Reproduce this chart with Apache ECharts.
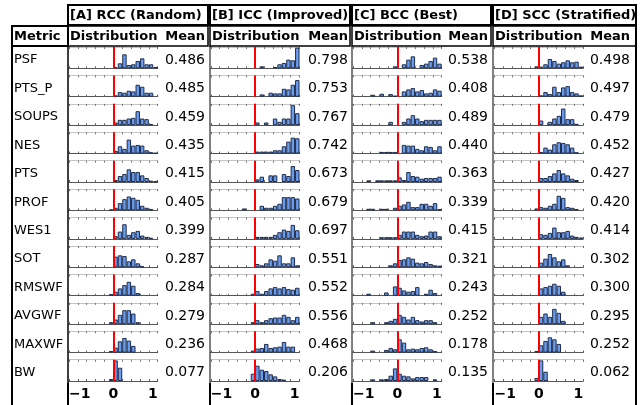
<!DOCTYPE html>
<html>
<head>
<meta charset="utf-8">
<script src="https://cdn.jsdelivr.net/npm/echarts@6/dist/echarts.min.js"></script>
<style>
  html, body { margin: 0; padding: 0; background: #fff; }
  #chart { width: 643px; height: 405px; }
</style>
</head>
<body>
<div id="chart"></div>
<script>
const metrics = ['PSF', 'PTS_P', 'SOUPS', 'NES', 'PTS', 'PROF', 'WES1', 'SOT', 'RMSWF', 'AVGWF', 'MAXWF', 'BW'];
const groupTitles = ['[A] RCC (Random)', '[B] ICC (Improved)', '[C] BCC (Best)', '[D] SCC (Stratified)'];

const meanRCC = [0.486, 0.485, 0.459, 0.435, 0.415, 0.405, 0.399, 0.287, 0.284, 0.279, 0.236, 0.077];
const meanICC = [0.798, 0.753, 0.767, 0.742, 0.673, 0.679, 0.697, 0.551, 0.552, 0.556, 0.468, 0.206];
const meanBCC = [0.538, 0.408, 0.489, 0.440, 0.363, 0.339, 0.415, 0.321, 0.243, 0.252, 0.178, 0.135];
const meanSCC = [0.498, 0.497, 0.479, 0.452, 0.427, 0.420, 0.414, 0.302, 0.300, 0.295, 0.252, 0.062];

// histogram bins: 20 bins of width 0.1 from -1 to 1
const binStart = -1;
const binWidth = 0.1;
const xTicks = [-1, 0, 1];
const xTickLabels = ['\u22121', '0', '1'];

const histRCC = [
  [0,0,0,0,0,0,0,0,0,0, 3,15,42,10,12,22,30,12,12,4],
  [0,0,0,0,0,0,0,0,0,0, 4,14,12,18,16,36,30,12,12,0],
  [0,0,0,0,0,0,0,0,0,0, 8,16,16,20,22,42,20,18,3,0],
  [0,0,0,0,0,0,0,0,0,0, 8,22,14,42,24,26,24,10,4,2],
  [0,0,0,0,0,0,0,0,0,0, 6,18,24,38,30,30,20,12,4,2],
  [0,0,0,0,0,0,0,0,0,3, 8,22,34,42,38,32,14,8,4,0],
  [0,0,0,0,0,0,0,0,0,0, 8,22,44,12,20,24,10,6,3,0],
  [0,0,0,0,0,0,0,0,0,0, 32,36,34,18,24,12,3,0,0,0],
  [0,0,0,0,0,0,0,0,0,5, 12,22,32,42,30,8,0,0,0,0],
  [0,0,0,0,0,0,0,0,0,6, 14,28,42,42,32,6,0,0,0,0],
  [0,0,0,0,0,0,0,0,0,5, 15,34,44,36,20,0,0,0,0,0],
  [0,0,0,0,0,0,0,0,0,6, 62,40,0,0,0,0,0,0,0,0]
];
const histICC = [
  [0,0,0,0,0,0,0,0,0,0, 0,6,0,0,4,12,16,26,24,62],
  [0,0,0,0,0,0,0,0,0,0, 0,7,0,12,10,10,24,22,36,50],
  [0,0,0,0,0,0,0,0,0,0, 8,0,8,0,20,10,20,20,60,36],
  [0,0,0,0,0,0,0,0,0,0, 6,6,6,6,10,10,22,36,48,46],
  [0,0,0,0,0,0,0,0,0,0, 8,16,0,20,20,0,24,18,48,36],
  [0,0,0,0,0,0,0,6,0,0, 0,14,8,8,14,20,40,40,40,36],
  [0,0,0,0,0,0,0,0,0,0, 6,6,6,6,12,20,28,24,42,26],
  [0,0,0,0,0,0,0,0,0,0, 10,6,12,24,20,36,12,12,30,6],
  [0,0,0,0,0,0,0,0,0,6, 14,6,14,22,26,22,26,20,18,24],
  [0,0,0,0,0,0,0,0,0,6, 12,6,12,18,20,20,28,22,12,22],
  [0,0,0,0,0,0,0,0,0,6, 12,14,26,14,16,18,32,18,18,0],
  [0,0,0,0,0,0,0,0,0,22, 46,34,30,20,14,6,4,0,0,0]
];
const histBCC = [
  [0,0,0,0,0,0,0,0,0,6, 0,12,26,36,0,10,14,22,32,14],
  [0,0,0,0,6,0,9,0,8,3, 0,16,22,26,16,20,10,12,22,18],
  [0,0,0,0,0,0,0,0,10,0, 0,10,20,30,20,12,16,16,16,16],
  [0,0,0,0,0,0,5,5,5,5, 0,26,24,24,14,10,22,20,10,22],
  [0,0,0,5,0,5,5,5,5,5, 14,6,30,18,16,10,12,12,12,16],
  [0,0,0,5,5,0,5,5,0,8, 14,18,26,10,10,20,20,14,22,4],
  [0,0,0,0,0,0,5,5,5,5, 12,22,22,22,12,8,10,22,22,8],
  [0,0,0,0,0,0,0,0,6,12, 22,24,30,26,14,12,16,10,6,5],
  [0,0,0,6,0,0,0,10,0,28, 24,16,12,14,26,0,6,18,8,0],
  [0,0,0,0,6,0,0,6,10,16, 28,22,14,22,12,8,12,12,6,0],
  [0,0,0,0,6,0,0,8,14,10, 40,30,10,12,10,14,16,10,5,0],
  [0,0,0,0,5,0,5,6,16,38, 22,16,14,8,12,12,12,0,5,0]
];
const histSCC = [
  [0,0,0,0,0,0,0,0,0,6, 5,12,28,22,14,18,24,18,20,5],
  [0,0,0,0,0,0,0,0,0,0, 4,14,8,30,14,28,32,14,10,4],
  [0,0,0,0,0,0,0,0,0,0, 14,0,10,20,28,50,18,18,4,0],
  [0,0,0,0,0,0,0,0,0,0, 5,18,12,28,34,32,28,18,4,0],
  [0,0,0,0,0,0,0,0,0,0, 12,12,18,26,36,26,20,10,6,0],
  [0,0,0,0,0,0,0,0,0,6, 10,8,14,20,44,38,10,8,4,0],
  [0,0,0,0,0,0,0,0,0,0, 14,12,18,34,20,20,24,10,6,4],
  [0,0,0,0,0,0,0,0,0,0, 14,26,40,30,18,24,6,0,0,0],
  [0,0,0,0,0,0,0,0,0,0, 22,26,30,36,30,12,0,0,0,0],
  [0,0,0,0,0,0,0,0,0,0, 22,32,22,46,34,10,0,0,0,0],
  [0,0,0,0,0,0,0,0,0,5, 22,35,46,40,26,0,0,0,0,0],
  [0,0,0,0,0,0,0,0,0,9, 62,28,0,0,0,0,0,0,0,0]
];

const hists = [histRCC, histICC, histBCC, histSCC];
const means = [meanRCC, meanICC, meanBCC, meanSCC];

// layout
const font = '"DejaVu Sans", sans-serif';
const rowTop0 = 47;
const rowPitch = 28.43;
const plotH = 21.3;
const plotW = 88.7;
const yMax = 64;
const colLeft = [69, 210.8, 353, 494.5];
const meanRight = [205, 348, 488, 630];
const groupBox = [[68, 208], [210, 350], [352, 491], [493, 636]];

const chart = echarts.init(document.getElementById('chart'));

const grid = [], xAxis = [], yAxis = [], series = [];
hists.forEach((hist, g) => {
  hist.forEach((counts, r) => {
    const idx = grid.length;
    const last = r === metrics.length - 1;
    grid.push({ left: colLeft[g], top: rowTop0 + r * rowPitch, width: plotW, height: plotH });
    xAxis.push({
      gridIndex: idx, type: 'value', min: -1, max: 1, interval: 1, position: 'bottom',
      axisLine: { lineStyle: { color: '#555', width: 1 } },
      axisTick: { show: true, inside: true, length: 2, lineStyle: { color: '#555' } },
      minorTick: { show: true, splitNumber: 5, length: 2, lineStyle: { color: '#666' } },
      splitLine: { show: false },
      axisLabel: {
        show: last, margin: 6, color: '#000', fontFamily: font, fontSize: 14, fontWeight: 'bold',
        alignMinLabel: 'left', alignMaxLabel: 'right',
        formatter: v => xTickLabels[xTicks.indexOf(v)] || ''
      }
    });
    xAxis.push({
      gridIndex: idx, type: 'value', min: -1, max: 1, interval: 1, position: 'top',
      axisLine: { lineStyle: { color: '#c4c4c4', width: 1 } },
      axisTick: { show: true, inside: true, length: 2, lineStyle: { color: '#666' } },
      minorTick: { show: true, splitNumber: 5, length: 2, lineStyle: { color: '#777' } },
      splitLine: { show: false },
      axisLabel: { show: false }
    });
    yAxis.push({ gridIndex: idx, type: 'value', min: 0, max: yMax, show: false });
    const data = [];
    counts.forEach((c, i) => {
      if (c > 0) data.push([binStart + binWidth * (i + 0.5), c]);
    });
    series.push({
      type: 'bar',
      xAxisIndex: 2 * idx,
      yAxisIndex: idx,
      barWidth: plotW / counts.length,
      data: data,
      itemStyle: { color: '#6a9cf0', borderColor: '#1f2d4a', borderWidth: 1 },
      markLine: {
        silent: true, symbol: 'none', animation: false,
        label: { show: false },
        lineStyle: { color: '#ff0000', width: 2, type: 'solid' },
        data: [{ xAxis: 0 }]
      }
    });
  });
});

// table frame and text
const gfx = [];
const line = (x1, y1, x2, y2, w) => ({
  type: 'line', shape: { x1, y1, x2, y2 }, style: { stroke: '#000', lineWidth: w }, z: 10
});
const text = (x, y, t, opts) => ({
  type: 'text', x, y, z: 10,
  style: Object.assign({ text: t, fill: '#000', fontFamily: font, fontSize: 13, verticalAlign: 'middle' }, opts)
});

gfx.push({ type: 'rect', shape: { x: 12, y: 26, width: 56, height: 20 }, style: { fill: 'none', stroke: '#000', lineWidth: 2 }, z: 10 });
gfx.push(text(14, 36.5, 'Metric', { fontWeight: 'bold' }));
gfx.push(line(12, 46, 12, 405, 2));
gfx.push(line(68, 46, 68, 405, 1));
gfx.push(line(636, 26, 636, 405, 2));

groupBox.forEach(([x0, x1], g) => {
  gfx.push({ type: 'rect', shape: { x: x0, y: 5, width: x1 - x0, height: 20 }, style: { fill: 'none', stroke: '#000', lineWidth: 2 }, z: 10 });
  gfx.push(text(x0 + 2, 15.5, groupTitles[g], { fontWeight: 'bold' }));
  gfx.push({ type: 'rect', shape: { x: x0, y: 26, width: x1 - x0, height: 20 }, style: { fill: 'none', stroke: '#000', lineWidth: 1.5 }, z: 10 });
  gfx.push(text(x0 + 2, 36.5, 'Distribution', { fontWeight: 'bold' }));
  gfx.push(text(meanRight[g], 36.5, 'Mean', { fontWeight: 'bold', align: 'right' }));
  gfx.push(line(x0, 46, x0, 383, 1));
  gfx.push(line(x0, 383, x0, 405, 2));
  means[g].forEach((m, r) => {
    gfx.push(text(meanRight[g], rowTop0 + r * rowPitch + 13, m.toFixed(3), { fontSize: 14, align: 'right' }));
  });
});

metrics.forEach((m, r) => {
  gfx.push(text(14, rowTop0 + r * rowPitch + 13, m));
});

chart.setOption({
  animation: false,
  grid: grid,
  xAxis: xAxis,
  yAxis: yAxis,
  series: series,
  graphic: { elements: gfx }
});
</script>
</body>
</html>
